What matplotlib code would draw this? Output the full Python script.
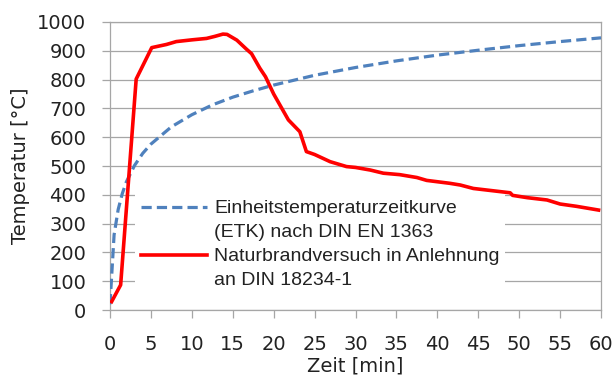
import matplotlib
matplotlib.use("Agg")
import matplotlib.pyplot as plt
from matplotlib.lines import Line2D

# ETK (Einheitstemperaturzeitkurve)
etk_t = [0, 0.5, 1, 1.5, 2, 3, 4, 5, 7.5, 10, 12.5, 15, 17.5, 20, 25, 30, 35, 40, 45, 50, 55, 60]
etk_T = [20, 261, 349, 404, 445, 502, 544, 576, 636, 678, 712, 739, 761, 781, 815, 842, 865, 885, 902, 918, 932, 945]

# Naturbrandversuch
nat_t = [0.2, 1.3, 3.2, 5.1, 6.9, 8.1, 10.0, 11.8, 12.8, 13.8, 14.3, 15.5, 16.7, 17.3, 18.3, 19.0,
         20.0, 21.0, 21.8, 23.2, 24.0, 25.0, 26.9, 28.9, 30.0, 31.8, 33.4, 35.4, 37.5, 38.7,
         41.5, 42.8, 44.4, 46.5, 48.9, 49.2, 51.0, 53.4, 55.0, 57.0, 59.7]
nat_T = [29, 87, 802, 911, 922, 932, 938, 943, 950, 958, 957, 937, 905, 890, 840, 810,
         750, 700, 660, 619, 550, 540, 515, 498, 495, 486, 475, 470, 460, 450,
         440, 434, 422, 415, 407, 398, 390, 382, 368, 360, 347]

labels = ["Einheitstemperaturzeitkurve", "(ETK) nach DIN EN 1363",
          "Naturbrandversuch in Anlehnung", "an DIN 18234-1"]
xticks = list(range(0, 61, 5))
yticks = list(range(0, 1001, 100))

blue = "#4F81BD"
red = "#FF0000"
gray = "#A6A6A6"

fig = plt.figure(figsize=(6.13, 3.76), dpi=100)
ax = fig.add_axes([110 / 613, 1 - 310 / 376, 491 / 613, 288 / 376])

ax.plot(etk_t, etk_T, color=blue, lw=2.3, dashes=(3.2, 1.6), zorder=3)
ax.plot(nat_t, nat_T, color=red, lw=2.6, zorder=4)

ax.set_xlim(0, 60)
ax.set_ylim(0, 1000)
ax.set_xticks(xticks)
ax.set_yticks(yticks)
ax.grid(axis="y", color=gray, lw=0.9)
ax.set_axisbelow(True)
for s in ax.spines.values():
    s.set_color(gray)
    s.set_linewidth(0.9)
ax.tick_params(colors=gray, length=6, width=0.9, labelsize=14, labelcolor="#222222")
ax.tick_params(axis="y", pad=11)
ax.tick_params(axis="x", pad=12)

ax.set_xlabel("Zeit [min]", fontsize=14, color="#222222", labelpad=2)
ax.set_ylabel("Temperatur [°C]", fontsize=14, color="#222222", labelpad=5)

handles = [Line2D([], [], color=blue, lw=2.3, dashes=(3.2, 1.6)),
           Line2D([], [], ls="none"),
           Line2D([], [], color=red, lw=2.6),
           Line2D([], [], ls="none")]
leg = ax.legend(handles, labels, loc="upper left", bbox_to_anchor=(0.051, 0.403),
                prop={"family": "Liberation Sans", "size": 14}, frameon=True,
                facecolor="white", edgecolor="none", framealpha=1, fancybox=False,
                handlelength=3.4, handletextpad=0.36, labelspacing=0.33,
                borderpad=0.3, borderaxespad=0)
leg.set_zorder(2.5)
for t in leg.get_texts():
    t.set_color("#222222")

fig.savefig("out.png", dpi=100)
